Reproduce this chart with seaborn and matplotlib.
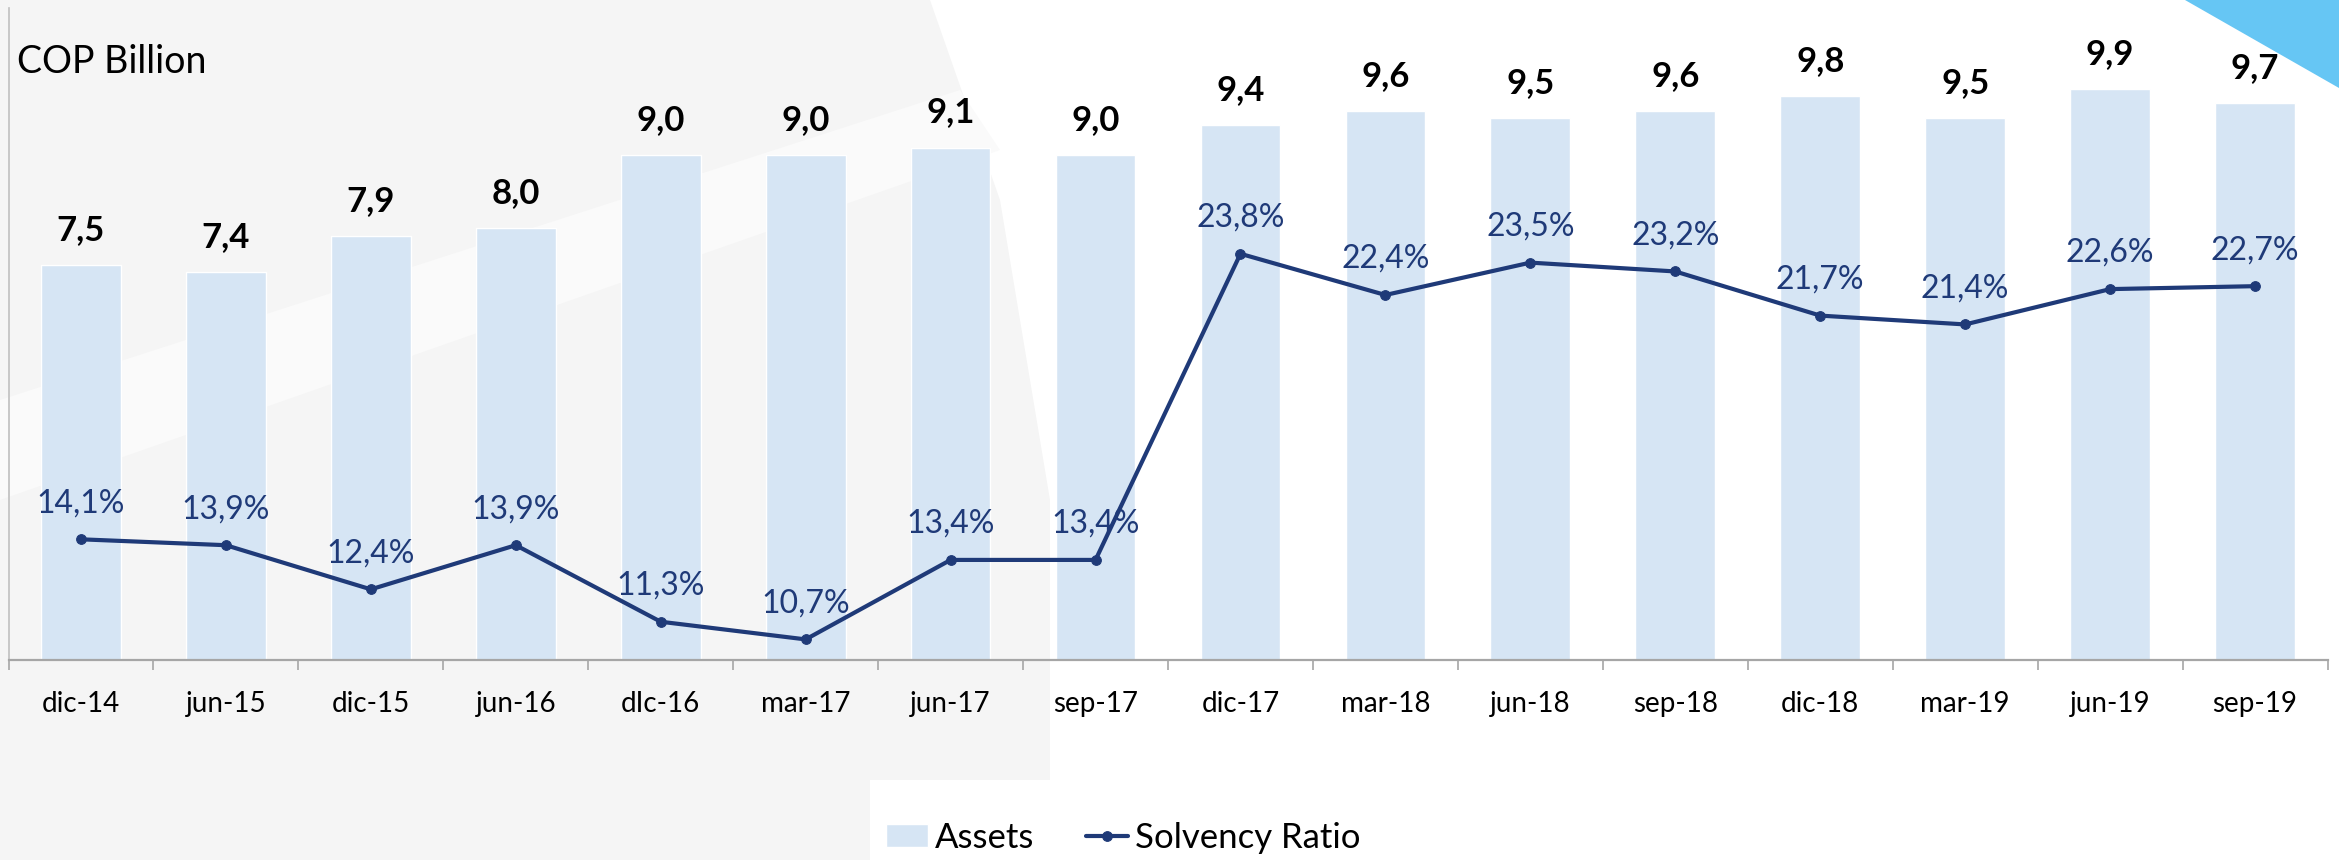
import numpy as np
import pandas as pd
import matplotlib
matplotlib.use("Agg")
import matplotlib.pyplot as plt
from matplotlib.patches import Polygon
import seaborn as sns

# ---- data ----
periods = ["dic-14", "jun-15", "dic-15", "jun-16", "dIc-16", "mar-17", "jun-17", "sep-17",
           "dic-17", "mar-18", "jun-18", "sep-18", "dic-18", "mar-19", "jun-19", "sep-19"]
assets = [7.5, 7.4, 7.9, 8.0, 9.0, 9.0, 9.1, 9.0, 9.4, 9.6, 9.5, 9.6, 9.8, 9.5, 9.9, 9.7]
solvency = [14.1, 13.9, 12.4, 13.9, 11.3, 10.7, 13.4, 13.4, 23.8, 22.4, 23.5, 23.2, 21.7, 21.4, 22.6, 22.7]
unit_label = "COP Billion"
series_names = ["Assets", "Solvency Ratio"]

BAR_C = "#D6E5F4"
LINE_C = "#1F3A78"
FONT = "Lato"

sns.set_theme(style="white")
plt.rcParams["font.family"] = [FONT, "DejaVu Sans"]

W, H = 2339, 860
fig = plt.figure(figsize=(W / 100, H / 100), dpi=100)
fig.patch.set_facecolor("white")

def px(pts):
    return [(x / W, 1 - y / H) for x, y in pts]

# subtle background watermark shapes (behind everything)
bg = [
    (px([(0, 0), (930, 0), (1000, 200), (1050, 500), (1050, 780), (870, 780), (870, 860), (0, 860)]), "#F5F5F5"),
    (px([(0, 400), (960, 90), (1000, 150), (0, 500)]), "#FAFAFA"),
    (px([(2185, 0), (2339, 0), (2339, 88)]), "#66C6F4"),
]
for pts, col in bg:
    fig.patches.append(Polygon(pts, closed=True, transform=fig.transFigure, facecolor=col,
                               edgecolor="none", zorder=-10))

left, right = 8.5 / W, 2327.5 / W
bottom, top = (H - 660) / H, (H - 8) / H
ax = fig.add_axes([left, bottom, right - left, top - bottom])
ax.set_zorder(1)
ax.patch.set_alpha(0)

df = pd.DataFrame({"period": periods, "assets": assets, "solvency": solvency})
sns.barplot(data=df, x="period", y="assets", color=BAR_C, saturation=1, width=0.55, ax=ax)

n = len(periods)
ax.set_xlim(-0.5, n - 0.5)
ax.set_ylim(2.12, 11.0)
ax.set_xlabel("")
ax.set_ylabel("")
ax.set_yticks([])

# ticks at boundaries, labels at centres
ax.set_xticks(np.arange(-0.5, n, 1.0))
ax.set_xticklabels([])
ax.tick_params(axis="x", which="major", length=7.5, width=1.2, color="#A6A6A6", direction="out", bottom=True)
ax.set_xticks(np.arange(n), minor=True)
ax.set_xticklabels(periods, minor=True, fontsize=20, color="black")
ax.tick_params(axis="x", which="minor", length=0, pad=22)

for s in ["top", "right"]:
    ax.spines[s].set_visible(False)
ax.spines["bottom"].set_color("#A6A6A6")
ax.spines["bottom"].set_linewidth(1.6)
ax.spines["left"].set_color("#BFBFBF")
ax.spines["left"].set_linewidth(1.2)

for i, v in enumerate(assets):
    ax.annotate(f"{v:.1f}".replace(".", ","), (i, v), xytext=(0, 18), textcoords="offset points",
                ha="center", va="baseline", fontsize=25, fontweight="bold", color="black")

ax2 = ax.twinx()
ax2.patch.set_alpha(0)
sns.lineplot(x=np.arange(n), y=solvency, ax=ax2, color=LINE_C, linewidth=3.0,
             marker="o", markersize=7, markeredgecolor=LINE_C, legend=False)
ax2.set_ylim(10, 32.15)
ax2.set_yticks([])
ax2.set_ylabel("")
for s in ["top", "right", "left", "bottom"]:
    ax2.spines[s].set_visible(False)

for i, v in enumerate(solvency):
    ax2.annotate(f"{v:.1f}".replace(".", ",") + "%", (i, v), xytext=(0, 19.5), textcoords="offset points",
                 ha="center", va="baseline", fontsize=23, color=LINE_C)

for a in (ax, ax2):
    if a.get_legend() is not None:
        a.get_legend().remove()

fig.text(17 / W, (H - 73) / H, unit_label, fontsize=27, color="black", ha="left", va="baseline")

handles = [ax.containers[0], ax2.lines[0]]
fig.legend(handles=handles, labels=series_names, loc="center", bbox_to_anchor=(1123 / W, 1 - 838 / H),
           ncol=2, frameon=False, fontsize=25, handlelength=1.2, handleheight=0.65,
           handletextpad=0.2, columnspacing=1.5, borderpad=0, labelcolor="black")

fig.savefig("out.png", dpi=100)
